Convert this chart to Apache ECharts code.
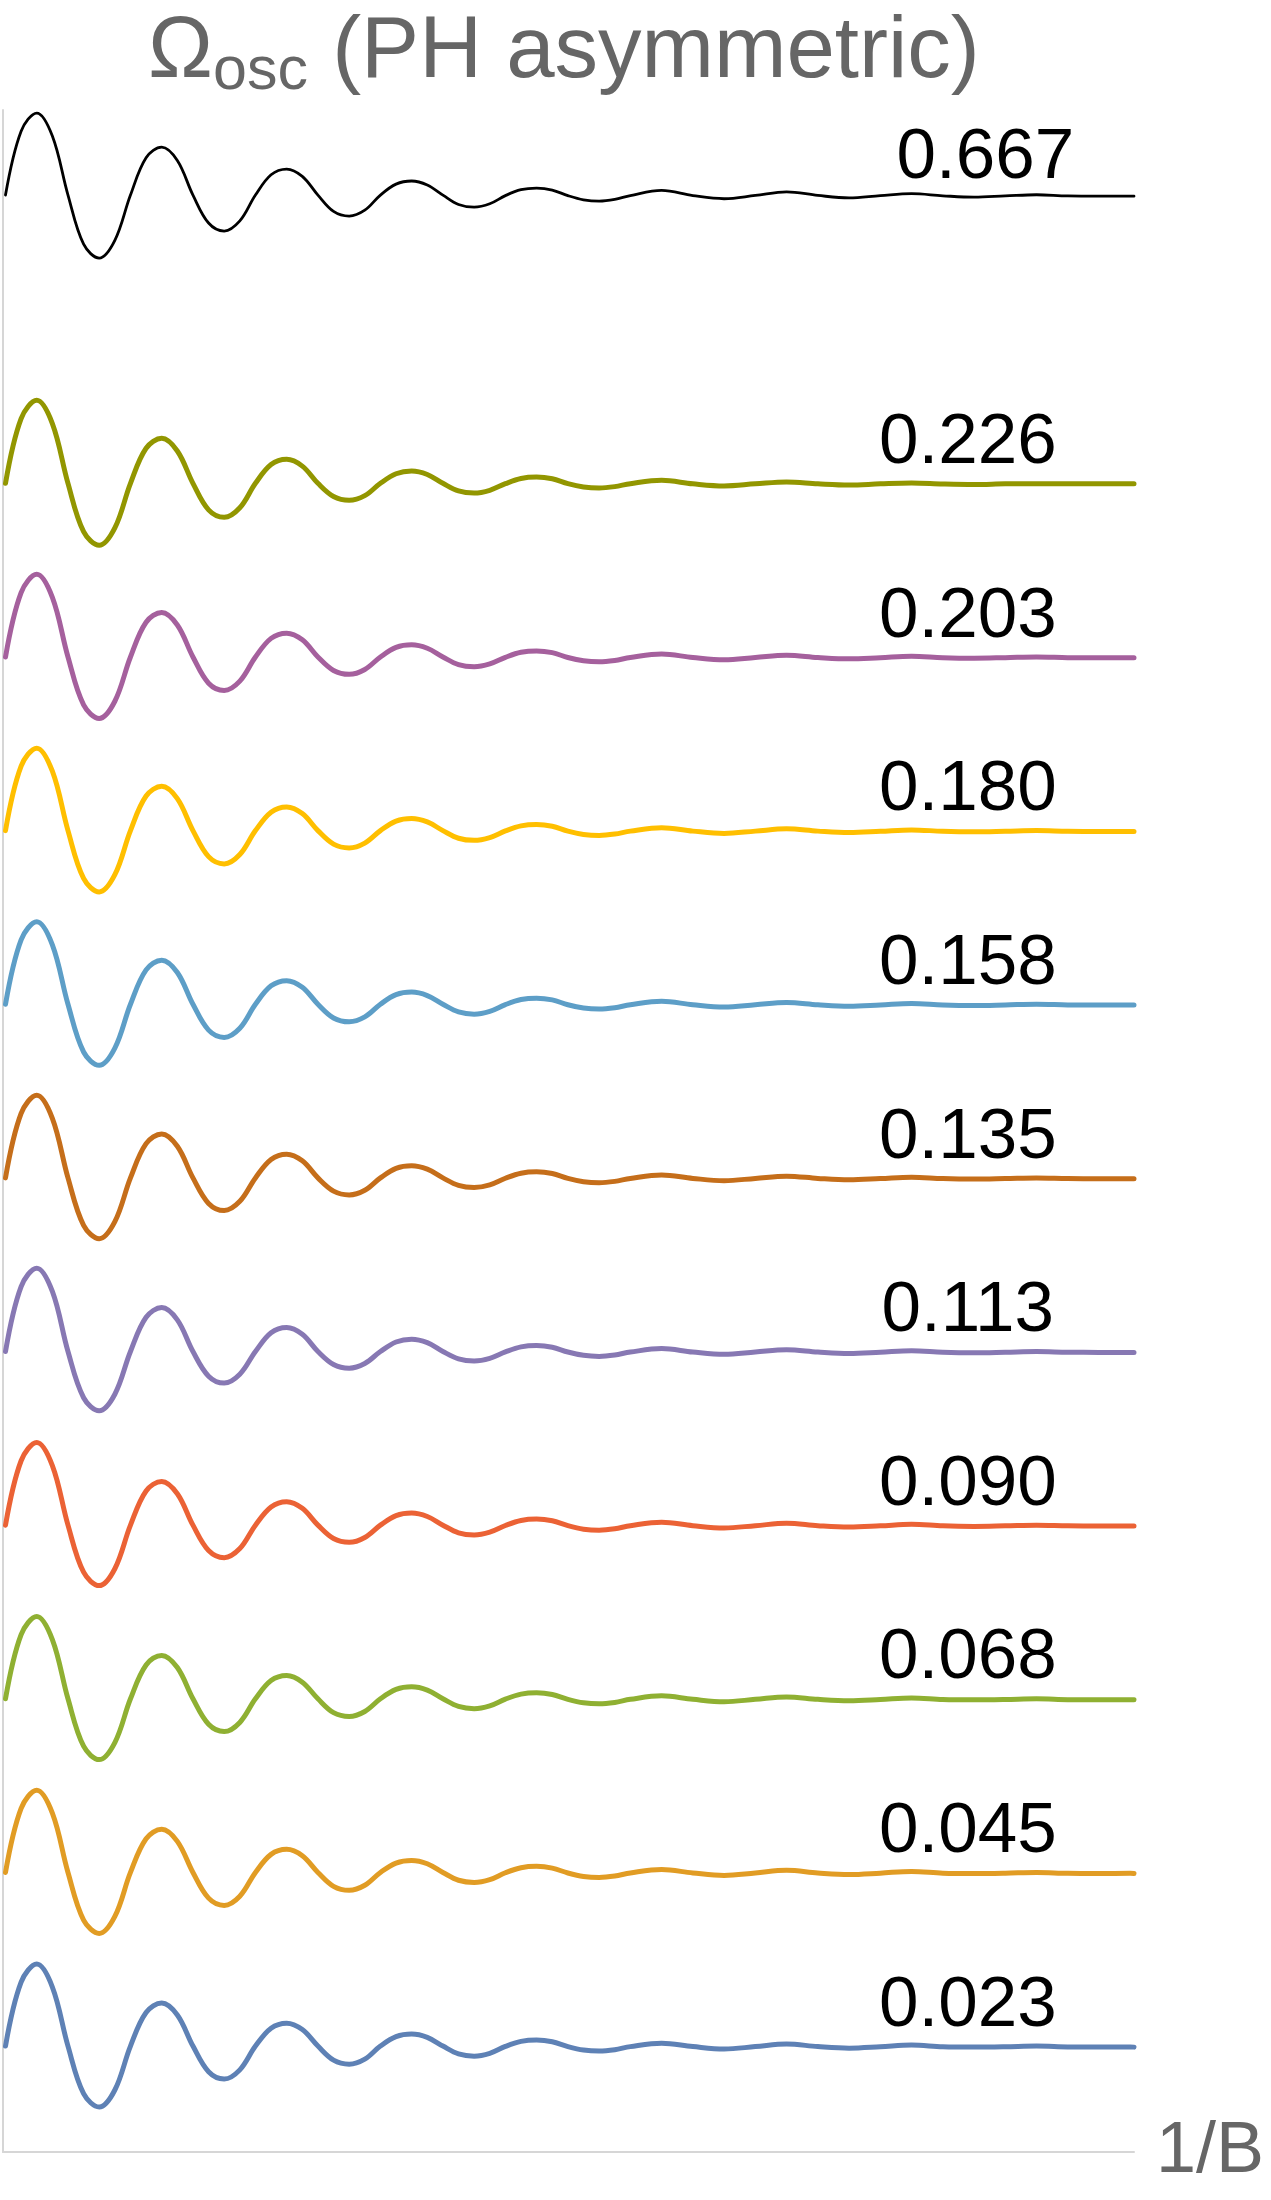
<!DOCTYPE html>
<html lang="en">
<head>
    <meta charset="UTF-8">
    <title>Omega osc PH asymmetric</title>
    <script src="https://cdn.jsdelivr.net/npm/echarts/dist/echarts.min.js"></script>
    <style>
        body { margin: 0; background: #fff; }
    </style>
</head>
<body>
<div id="chart_osc" style="width: 1271px;height: 2200px"></div>
<script>
    // x in units of one oscillation period: eighth-period samples up to 5, quarter-period after
    var xs = [0, 0.125, 0.25, 0.375, 0.5, 0.625, 0.75, 0.875,
        1, 1.125, 1.25, 1.375, 1.5, 1.625, 1.75, 1.875,
        2, 2.125, 2.25, 2.375, 2.5, 2.625, 2.75, 2.875,
        3, 3.125, 3.25, 3.375, 3.5, 3.625, 3.75, 3.875,
        4, 4.125, 4.25, 4.375, 4.5, 4.625, 4.75, 4.875,
        5, 5.25, 5.5, 5.75, 6, 6.25, 6.5, 6.75, 7, 7.25, 7.5, 7.75, 8, 8.25, 8.5, 8.75, 9, 9.03];

    var labels = ['0.667', '0.226', '0.203', '0.180', '0.158', '0.135', '0.113', '0.090', '0.068', '0.045', '0.023'];
    // vertical offset of each trace (100 = spacing between coloured traces)
    var offsets = [1066, 900, 800, 700, 600, 500, 400, 300, 200, 100, 0];

    var v667 = [0, 36.8, 47.2, 34.0, 0, -28.3, -36.3, -26.1, 0, 21.5, 27.6, 19.9, 0, -16.1, -20.7, -14.9,
        0, 11.7, 15.0, 10.8, 0, -9.4, -12.1, -8.7, 0, 6.3, 8.1, 5.8, 0, -5.4, -6.9, -5.0,
        -0.3, 3.1, 4.0, 2.9, -0.3, -2.7, -3.5, -2.5, -0.3,
        2.7, -0.3, -2.1, -0.2, 1.9, -0.2, -1.6, -0.3, 0.8, -0.4, -1.2, -0.5, 0.2, -0.5, -0.6, -0.6, -0.6];
    var v226 = [0, 37.3, 47.8, 34.4, 0, -27.8, -35.7, -25.7, 0, 20.2, 25.9, 18.6, 0, -15.3, -19.6, -14.1,
        0, 10.8, 13.8, 9.9, 0, -7.6, -9.8, -7.1, 0, 5.5, 7.1, 5.1, 0, -4.4, -5.6, -4.0,
        -0.2, 2.8, 3.6, 2.6, -0.2, -2.1, -2.7, -1.9, -0.2,
        1.7, -0.3, -1.5, -0.3, 0.8, -0.3, -1.0, -0.3, 0.2, -0.4, -0.7, -0.3, -0.2, -0.3, -0.3, -0.3, -0.3];
    var v203 = [0, 37.1, 47.6, 34.3, 0, -27.6, -35.4, -25.5, 0, 20.0, 25.6, 18.4, 0, -15.1, -19.3, -13.9,
        0, 10.7, 13.7, 9.9, 0, -7.8, -10.0, -7.2, 0, 5.5, 7.0, 5.0, 0, -4.4, -5.6, -4.0,
        -0.2, 2.7, 3.5, 2.5, -0.3, -2.2, -2.8, -2.0, -0.3,
        1.7, -0.3, -1.6, -0.3, 1.0, -0.3, -1.1, -0.4, 0.4, -0.4, -0.7, -0.4, 0.0, -0.4, -0.5, -0.5, -0.5];
    var v180 = [0, 37.1, 47.5, 34.2, 0, -27.5, -35.3, -25.4, 0, 19.9, 25.5, 18.4, 0, -15.0, -19.2, -13.8,
        0, 10.6, 13.6, 9.8, 0, -7.8, -10.0, -7.2, 0, 5.5, 7.0, 5.0, 0, -4.4, -5.6, -4.0,
        -0.2, 2.7, 3.5, 2.5, -0.3, -2.2, -2.8, -2.0, -0.3,
        1.7, -0.3, -1.6, -0.3, 1.0, -0.3, -1.1, -0.4, 0.4, -0.4, -0.7, -0.4, 0.0, -0.4, -0.5, -0.5, -0.5];
    var v158 = [0, 37.1, 47.5, 34.2, 0, -27.5, -35.2, -25.3, 0, 19.8, 25.4, 18.3, 0, -14.9, -19.1, -13.8,
        0, 10.6, 13.6, 9.8, 0, -7.9, -10.1, -7.3, 0, 5.5, 7.0, 5.0, 0, -4.4, -5.7, -4.1,
        -0.2, 2.7, 3.5, 2.5, -0.3, -2.2, -2.8, -2.0, -0.3,
        1.7, -0.3, -1.6, -0.3, 1.0, -0.3, -1.1, -0.4, 0.4, -0.4, -0.7, -0.4, 0.0, -0.4, -0.5, -0.5, -0.5];
    var v135 = [0, 37.1, 47.6, 34.3, 0, -27.3, -35.0, -25.2, 0, 19.7, 25.3, 18.2, 0, -14.7, -18.8, -13.5,
        0, 10.6, 13.6, 9.8, 0, -7.6, -9.8, -7.1, 0, 5.5, 7.0, 5.0, 0, -4.3, -5.5, -4.0,
        -0.2, 2.7, 3.5, 2.5, -0.3, -2.2, -2.8, -2.0, -0.3,
        1.7, -0.3, -1.6, -0.3, 1.0, -0.3, -1.1, -0.4, 0.4, -0.4, -0.7, -0.4, 0.0, -0.4, -0.5, -0.5, -0.5];
    var v113 = [0, 37.4, 48.0, 34.6, 0, -26.6, -34.1, -24.6, 0, 19.7, 25.3, 18.2, 0, -14.2, -18.2, -13.1,
        0, 10.8, 13.8, 9.9, 0, -7.5, -9.6, -6.9, 0, 5.5, 7.1, 5.1, 0, -4.2, -5.4, -3.9,
        -0.2, 2.7, 3.5, 2.5, -0.3, -2.2, -2.8, -2.0, -0.3,
        1.7, -0.3, -1.6, -0.3, 1.0, -0.3, -1.1, -0.4, 0.4, -0.4, -0.7, -0.4, 0.0, -0.4, -0.5, -0.5, -0.5];
    var v090 = [0, 37.1, 47.6, 34.3, 0, -27.1, -34.8, -25.1, 0, 19.7, 25.2, 18.1, 0, -14.6, -18.7, -13.5,
        0, 10.5, 13.5, 9.7, 0, -7.7, -9.9, -7.1, 0, 5.5, 7.0, 5.0, 0, -4.4, -5.6, -4.0,
        -0.2, 2.7, 3.5, 2.5, -0.3, -2.3, -2.9, -2.1, -0.3,
        1.7, -0.3, -1.6, -0.3, 1.1, -0.3, -1.1, -0.4, 0.5, -0.4, -0.7, -0.4, 0.0, -0.4, -0.5, -0.5, -0.5];
    var v068 = [0, 37.0, 47.4, 34.1, 0, -27.3, -35.0, -25.2, 0, 19.5, 25.0, 18.0, 0, -14.7, -18.9, -13.6,
        0, 10.5, 13.4, 9.6, 0, -8.0, -10.2, -7.3, 0, 5.4, 6.9, 5.0, 0, -4.4, -5.7, -4.1,
        -0.2, 2.7, 3.5, 2.5, -0.3, -2.3, -2.9, -2.1, -0.3,
        1.7, -0.3, -1.7, -0.3, 1.1, -0.3, -1.1, -0.4, 0.5, -0.4, -0.6, -0.4, 0.0, -0.5, -0.6, -0.5, -0.6];
    var v045 = [0, 36.9, 47.3, 34.1, 0, -27.4, -35.1, -25.3, 0, 19.4, 24.9, 17.9, 0, -14.8, -19.0, -13.7,
        0, 10.4, 13.3, 9.6, 0, -8.0, -10.3, -7.4, 0, 5.4, 6.9, 5.0, 0, -4.5, -5.8, -4.2,
        -0.2, 2.7, 3.5, 2.5, -0.3, -2.3, -2.9, -2.1, -0.3,
        1.7, -0.3, -1.7, -0.3, 1.2, -0.3, -1.2, -0.4, 0.6, -0.4, -0.6, -0.4, 0.0, -0.5, -0.6, -0.5, -0.6];
    var v023 = [0, 36.8, 47.2, 34.0, 0, -27.4, -35.1, -25.3, 0, 19.3, 24.8, 17.9, 0, -14.8, -19.0, -13.7,
        0, 10.3, 13.2, 9.5, 0, -8.1, -10.4, -7.5, 0, 5.4, 6.9, 5.0, 0, -4.5, -5.8, -4.2,
        -0.2, 2.7, 3.5, 2.5, -0.3, -2.3, -2.9, -2.1, -0.3,
        1.7, -0.3, -1.7, -0.3, 1.2, -0.3, -1.2, -0.4, 0.6, -0.4, -0.6, -0.4, 0.0, -0.5, -0.6, -0.5, -0.6];

    var values = [v667, v226, v203, v180, v158, v135, v113, v090, v068, v045, v023];
    var colors = ['#000000', '#929600', '#A5609D', '#FFBF00', '#5D9EC7', '#C56E1A', '#8778B3', '#EB6235', '#8FB032', '#E19C24', '#5E81B5'];

    var font = "'Liberation Sans', Arial, Helvetica, sans-serif";

    function buildSeries() {
        var series = [];
        for (var i = 0; i < values.length; i++) {
            var pts = [];
            for (var j = 0; j < xs.length; j++) {
                pts.push([xs[j], offsets[i] + values[i][j]]);
            }
            var top = i === 0;
            series.push({
                name: labels[i],
                type: 'line',
                data: pts,
                smooth: 0.36,
                showSymbol: false,
                lineStyle: { color: colors[i], width: top ? 2.8 : 5, join: 'round', cap: 'round' },
                markPoint: {
                    symbol: 'circle',
                    symbolSize: 1,
                    itemStyle: { color: 'rgba(0,0,0,0)' },
                    label: {
                        show: true,
                        position: 'inside',
                        formatter: labels[i],
                        fontFamily: font,
                        fontSize: 71,
                        color: '#000'
                    },
                    data: [{ coord: [top ? 7.84 : 7.70, offsets[i] + (top ? 21 : 23)] }]
                }
            });
        }
        return series;
    }

    var option = {
        animation: false,
        backgroundColor: '#fff',
        title: {
            text: '{a|Ω}{b|osc}{a| (PH asymmetric)}',
            left: 148,
            top: 3,
            padding: 0,
            textStyle: {
                rich: {
                    a: { fontFamily: font, fontSize: 87, fontWeight: 'normal', lineHeight: 100, color: '#666666' },
                    b: { fontFamily: font, fontSize: 61, fontWeight: 'normal', lineHeight: 50, color: '#666666', verticalAlign: 'bottom' }
                }
            }
        },
        grid: { left: 3, right: 137, top: 110, bottom: 48 },
        xAxis: {
            type: 'value',
            min: -0.02,
            max: 9.03,
            name: '1/B',
            nameLocation: 'end',
            nameGap: 22,
            nameTextStyle: { fontFamily: font, fontSize: 72, color: '#666666', padding: [8, 0, 0, 0] },
            axisLine: { onZero: false, lineStyle: { color: '#d6d6d6', width: 2 } },
            axisTick: { show: false },
            axisLabel: { show: false },
            splitLine: { show: false }
        },
        yAxis: {
            type: 'value',
            min: -61,
            max: 1115,
            axisLine: { show: true, onZero: false, lineStyle: { color: '#d6d6d6', width: 2 } },
            axisTick: { show: false },
            axisLabel: { show: false },
            splitLine: { show: false }
        },
        series: buildSeries()
    };

    var chart_osc = echarts.init(document.getElementById('chart_osc'));
    chart_osc.setOption(option);
</script>
</body>
</html>
